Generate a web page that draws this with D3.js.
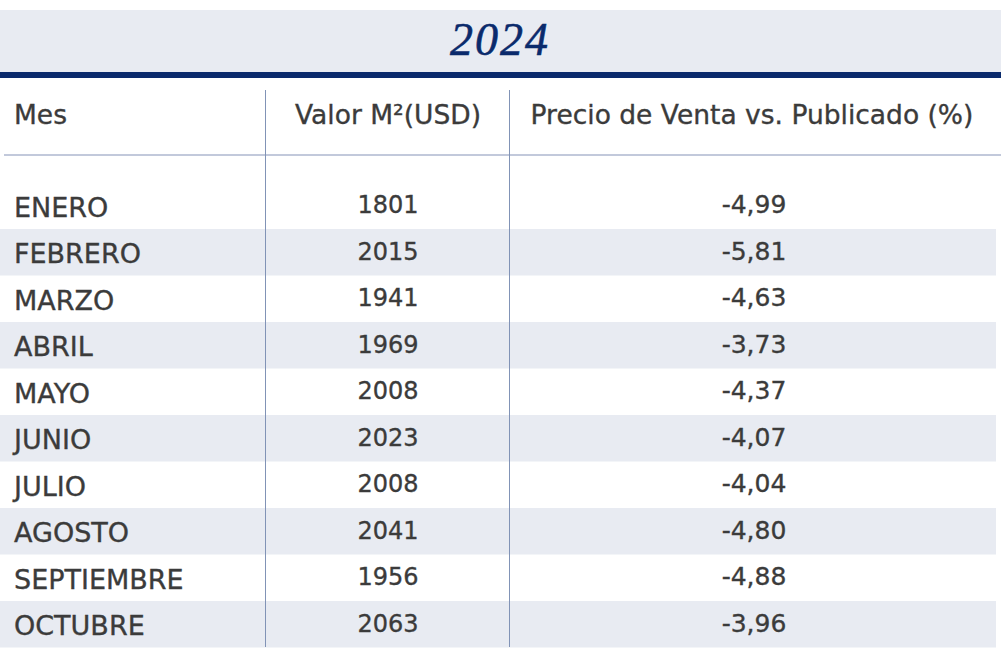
<!DOCTYPE html>
<html>
<head>
<meta charset="utf-8">
<script src="https://cdn.jsdelivr.net/npm/d3@7"></script>
<style>
  body { margin: 0; background: #fff; }
  svg { display: block; }
  .cell { font-family: "DejaVu Sans", sans-serif; fill: #3b3b3b; stroke: #3b3b3b; stroke-width: 0.35px; }
</style>
</head>
<body>
<div id="chart"></div>
<script>
// datos 2024
const title = "2024";
const headers = ["Mes", "Valor M²(USD)", "Precio de Venta vs. Publicado (%)"];
const months = ["ENERO", "FEBRERO", "MARZO", "ABRIL", "MAYO", "JUNIO", "JULIO", "AGOSTO", "SEPTIEMBRE", "OCTUBRE"];
const valorM2 = [1801, 2015, 1941, 1969, 2008, 2023, 2008, 2041, 1956, 2063];
const ventaVsPublicado = [-4.99, -5.81, -4.63, -3.73, -4.37, -4.07, -4.04, -4.80, -4.88, -3.96];

const width = 1001, height = 663;
const navy = "#0a2a6c", band = "#e8ebf2";

const es = d3.formatLocale({decimal: ",", thousands: ".", grouping: [3], currency: ["$", ""], minus: "-"});
const fmtPct = es.format(".2f");

const svg = d3.select("#chart").append("svg")
  .attr("width", width).attr("height", height);

// title band
svg.append("rect").attr("x", 0).attr("y", 10).attr("width", 1001).attr("height", 63).attr("fill", band);
svg.append("rect").attr("x", 0).attr("y", 72).attr("width", 1001).attr("height", 6).attr("fill", navy);
svg.append("text")
  .attr("x", 500).attr("y", 55)
  .attr("text-anchor", "middle")
  .style("font-family", "'Liberation Serif', serif")
  .style("font-style", "italic")
  .style("font-size", "46px")
  .style("letter-spacing", "2px")
  .attr("fill", navy)
  .attr("stroke", navy).attr("stroke-width", 0.6)
  .text(title);

// columns
const colX = d3.scaleOrdinal().domain([0, 1, 2]).range([14, 388, 752]);
const colAnchor = ["start", "middle", "middle"];

// rows
const y = d3.scaleBand().domain(months).range([182.5, 647.5]);

svg.append("g").selectAll("rect")
  .data(months.filter((d, i) => i % 2 == 1))
  .join("rect")
  .attr("x", 0).attr("width", 996)
  .attr("y", d => y(d)).attr("height", y.bandwidth())
  .attr("fill", band);

// header
svg.append("g").selectAll("text")
  .data(headers)
  .join("text")
  .attr("class", "cell")
  .attr("x", (d, i) => colX(i))
  .attr("y", 124)
  .attr("text-anchor", (d, i) => colAnchor[i])
  .style("font-size", "26.5px")
  .text(d => d);

svg.append("line")
  .attr("x1", 4).attr("x2", 1001).attr("y1", 155).attr("y2", 155)
  .attr("stroke", "#c2c9db").attr("stroke-width", 2);

// vertical separators
svg.append("g").selectAll("line")
  .data([265.5, 509.5])
  .join("line")
  .attr("x1", d => d).attr("x2", d => d)
  .attr("y1", 90).attr("y2", 647)
  .attr("stroke", "#8193b6").attr("stroke-width", 1);

// body
const rows = svg.append("g").selectAll("g")
  .data(months.map((m, i) => ({m, v: valorM2[i], p: ventaVsPublicado[i]})))
  .join("g")
  .attr("transform", d => `translate(0,${y(d.m)})`);

rows.append("text").attr("class", "cell")
  .attr("x", colX(0)).attr("y", 34)
  .style("font-size", "27px")
  .text(d => d.m);

rows.append("text").attr("class", "cell")
  .attr("x", colX(1)).attr("y", 30.5)
  .attr("text-anchor", "middle")
  .style("font-size", "24px")
  .text(d => d.v);

rows.append("text").attr("class", "cell")
  .attr("x", colX(2) + 2).attr("y", 30.5)
  .attr("text-anchor", "middle")
  .style("font-size", "25px")
  .text(d => fmtPct(d.p));
</script>
</body>
</html>
